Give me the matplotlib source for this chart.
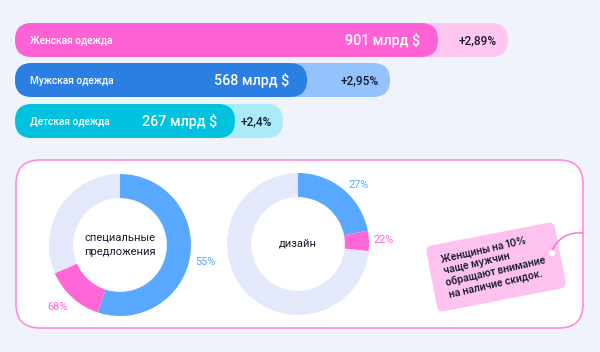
import matplotlib
matplotlib.use("Agg")
import matplotlib.pyplot as plt
from matplotlib.patches import FancyBboxPatch, Circle, PathPatch
from matplotlib.path import Path
from matplotlib.transforms import Affine2D

plt.rcParams['font.family'] = ['Roboto', 'DejaVu Sans']

# ---- data ----
categories = ["Женская одежда", "Мужская одежда", "Детская одежда"]
market_values = [901, 568, 267]          # млрд $
value_labels = ["901 млрд $", "568 млрд $", "267 млрд $"]
growth_labels = ["+2,89%", "+2,95%", "+2,4%"]
bar_main_len = [423, 292, 220]           # drawn length of dark bar
bar_total_len = [493, 375, 268]          # drawn length incl. growth part

donut_titles = ["специальные\nпредложения", "дизайн"]
donut_blue = [0.55, 0.22]
donut_pink = [0.135, 0.046]
donut_blue_labels = ["55%", "27%"]
donut_pink_labels = ["68%", "22%"]

tag_text = "Женщины на 10%\nчаще мужчин\nобращают внимание\nна наличие скидок."

# ---- style ----
BG = "#f0f3fb"
dark_cols = ["#ff62d4", "#2b7fe3", "#00c1de"]
light_cols = ["#ffc6ef", "#92c3ff", "#a9ecf8"]
BLUE = "#58a8ff"
PINK = "#ff66d8"
LIGHT = "#e3e8fb"
TEXT = "#1a1a2e"

W, H = 600, 352
fig = plt.figure(figsize=(W / 100, H / 100), dpi=100, facecolor=BG)
ax = fig.add_axes([0, 0, 1, 1])
ax.set_xlim(0, W)
ax.set_ylim(H, 0)
ax.axis("off")
ax.set_facecolor(BG)

# ---- bars ----
x0 = 15
tops = [23, 63, 104]
bh = 34
for i, cat in enumerate(categories):
    y = tops[i]
    r = bh / 2
    ax.add_patch(FancyBboxPatch((x0, y), bar_total_len[i], bh,
                                boxstyle=f"round,pad=0,rounding_size={r}",
                                fc=light_cols[i], ec="none"))
    ax.add_patch(FancyBboxPatch((x0, y), bar_main_len[i], bh,
                                boxstyle=f"round,pad=0,rounding_size={r}",
                                fc=dark_cols[i], ec="none"))
    yc = y + bh / 2 + 0.5
    ax.text(x0 + 15, yc, cat, color="white", fontsize=7.3,
            fontweight="medium", ha="left", va="center")
    ax.text(x0 + bar_main_len[i] - 18, yc, value_labels[i], color="white",
            fontsize=10.3, fontweight="medium", ha="right", va="center")
    ax.text(x0 + bar_total_len[i] - 11, yc, growth_labels[i], color=TEXT,
            fontsize=8.6, fontweight="medium", ha="right", va="center")

# ---- frame ----
ax.add_patch(FancyBboxPatch((16, 160), 567, 168,
                            boxstyle="round,pad=0,rounding_size=24",
                            fc="white", ec="#ff8ae0", lw=1.2))

# ---- donuts ----
centers = [(120, 245), (298, 244)]
R = 71
for i, (cx, cy) in enumerate(centers):
    dax = fig.add_axes([(cx - R) / W, (H - cy - R) / H, 2 * R / W, 2 * R / H])
    rest = 1 - donut_blue[i] - donut_pink[i]
    dax.pie([donut_blue[i], donut_pink[i], rest], colors=[BLUE, PINK, LIGHT],
            startangle=90, counterclock=False, radius=1,
            wedgeprops=dict(width=0.34, edgecolor="none"))
    dax.set_xlim(-1, 1)
    dax.set_ylim(-1, 1)
    dax.axis("off")
    ax.text(cx, cy, donut_titles[i], color=TEXT, fontsize=8,
            ha="center", va="center", linespacing=1.5)

ax.text(205, 262, donut_blue_labels[0], color=BLUE, fontsize=7.8, ha="center", va="center")
ax.text(57, 307, donut_pink_labels[0], color=PINK, fontsize=7.8, ha="center", va="center")
ax.text(359, 185, donut_blue_labels[1], color=BLUE, fontsize=7.8, ha="center", va="center")
ax.text(384, 240, donut_pink_labels[1], color=PINK, fontsize=7.8, ha="center", va="center")

# ---- tag ----
tcx, tcy = 496, 267
tw, th = 131, 67
rot = Affine2D().rotate_deg_around(tcx, tcy, -11) + ax.transData
ax.add_patch(FancyBboxPatch((tcx - tw / 2, tcy - th / 2), tw, th,
                            boxstyle="round,pad=0,rounding_size=6",
                            fc="#fdc3ee", ec="none", transform=rot))
string = Path([(551, 253), (558, 236), (570, 232), (583, 233)],
              [Path.MOVETO, Path.CURVE4, Path.CURVE4, Path.CURVE4])
ax.add_patch(PathPatch(string, fc="none", ec=PINK, lw=1))
ax.add_patch(Circle((552, 253), 3, fc="white", ec="none"))
ax.text(445, 277, tag_text, color=TEXT, fontsize=7.1, rotation=13,
        rotation_mode="anchor", ha="left", va="center", linespacing=1.2,
        fontweight="semibold", family=["Inter", "DejaVu Sans"])

fig.savefig("out.png", dpi=100, facecolor=BG)
